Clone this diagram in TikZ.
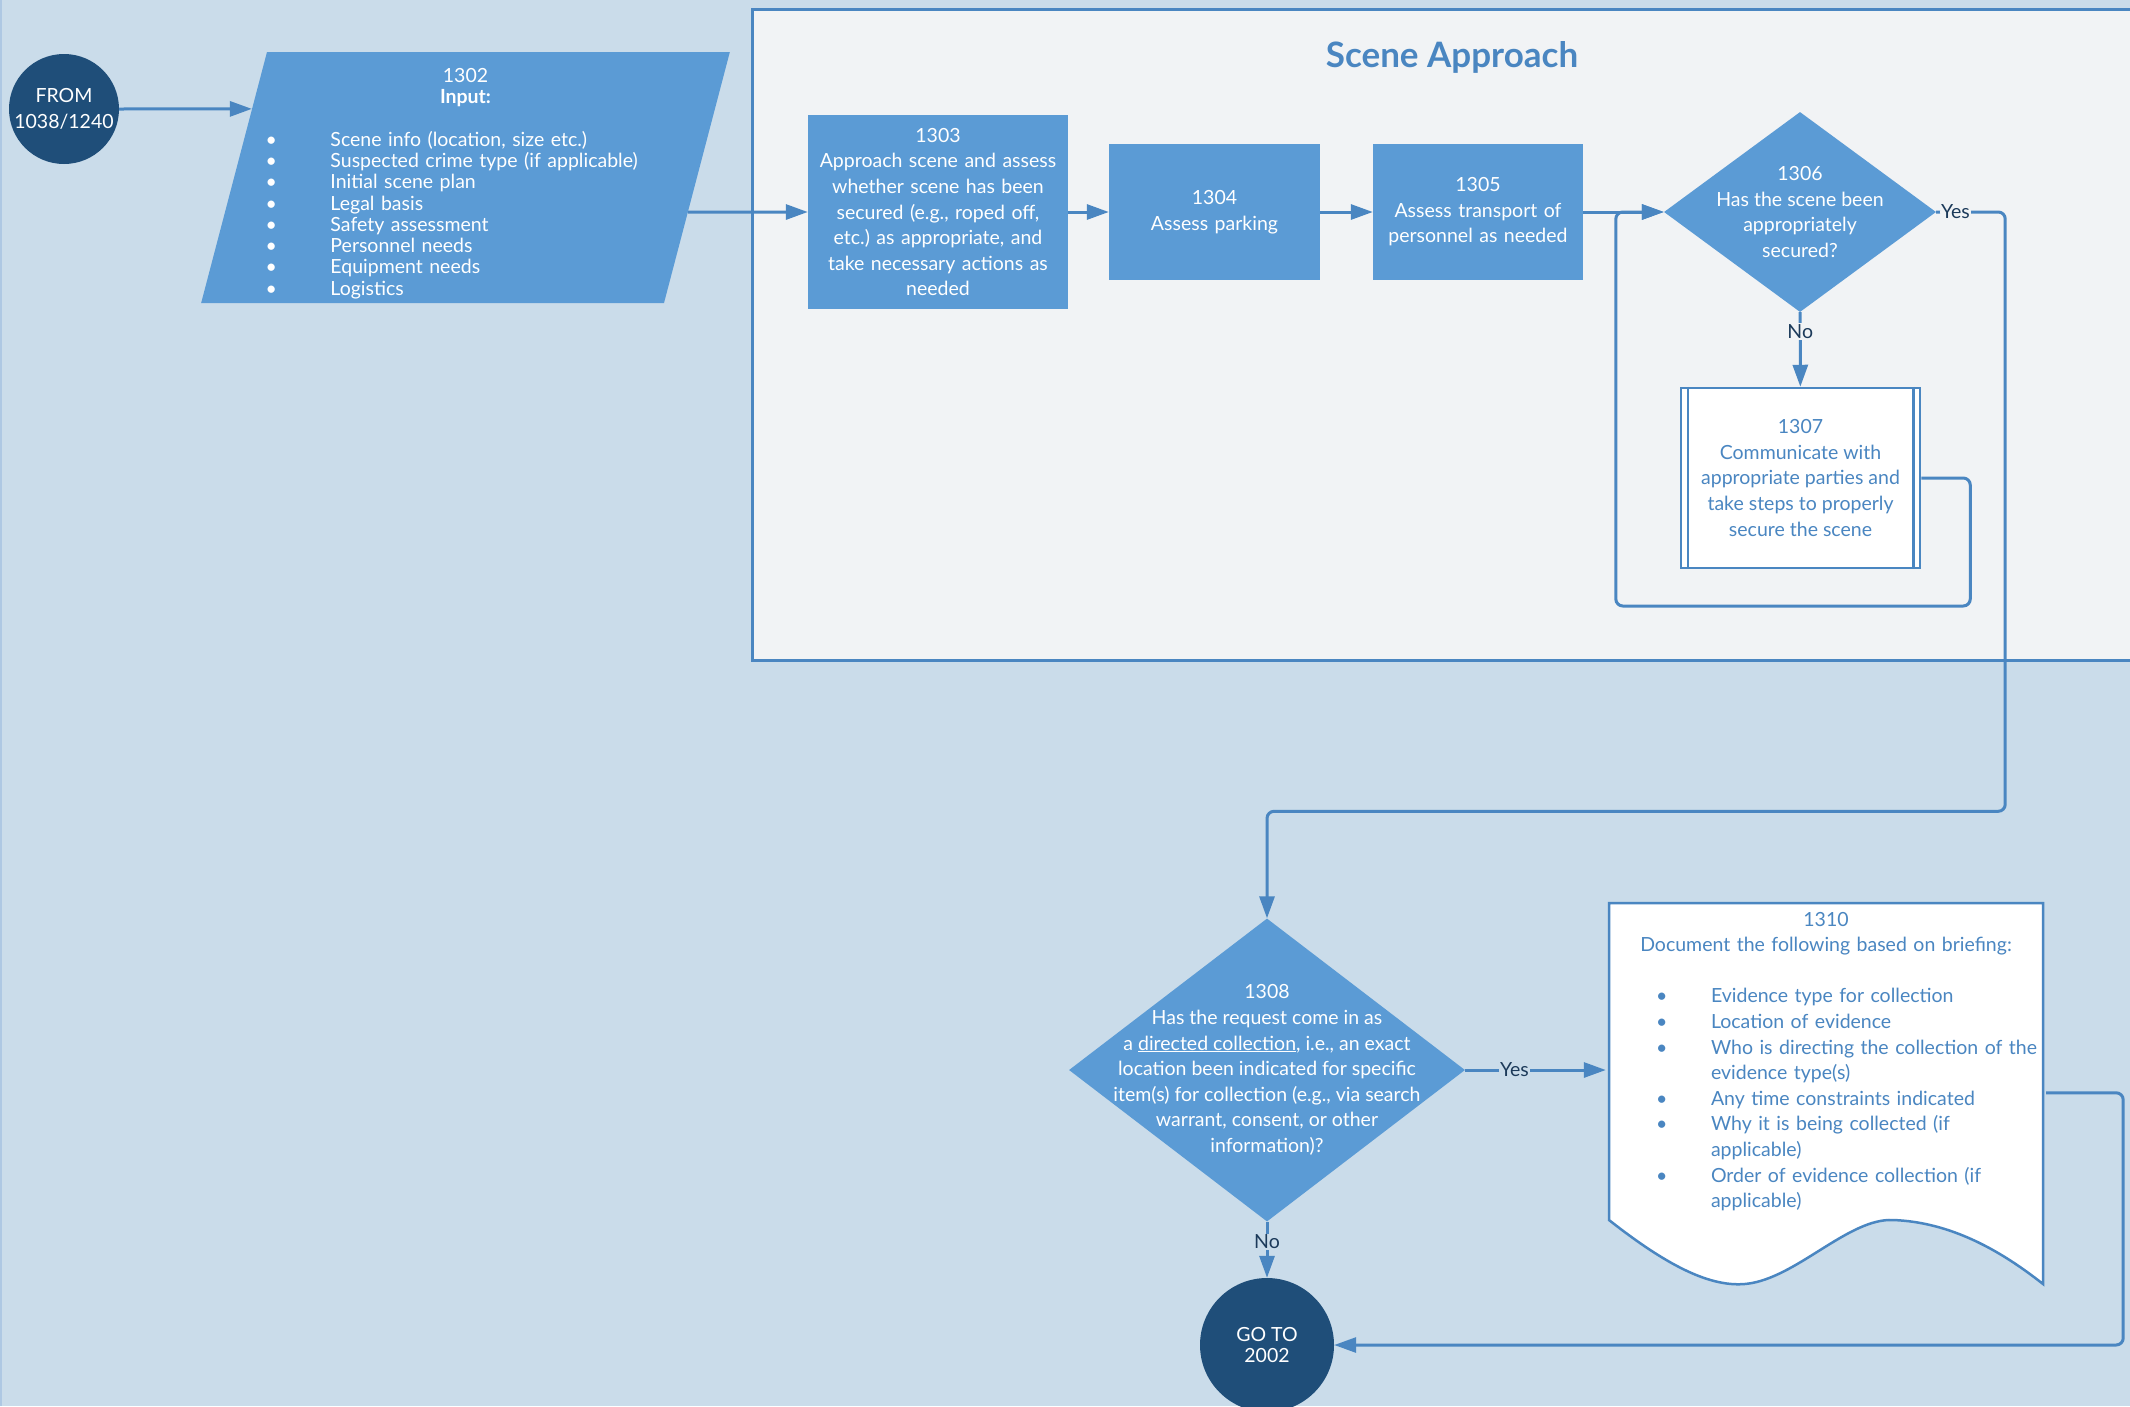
\documentclass[tikz,border=0pt]{standalone}
\usepackage{fontspec}
\setmainfont{Lato}
\usepackage{xcolor}
\usepackage{tikz}
\usetikzlibrary{shapes,arrows.meta,positioning,calc}

\definecolor{bgblue}{HTML}{CADCEA}
\definecolor{panelgray}{HTML}{F1F3F5}
\definecolor{boxblue}{HTML}{5B9BD5}
\definecolor{darkblue}{HTML}{1F4E79}
\definecolor{lineblue}{RGB}{74,134,193}
\definecolor{labelnavy}{HTML}{1C3A5A}

\frenchspacing
\newcommand{\dotgap}[1]{\makebox[#1][l]{\textbullet}}
\newcommand{\inputtext}{%
    {\centering 1302\\\textbf{Input:}\par}
    \vspace{21.3pt}
    \dotgap{65pt}Scene info (location, size etc.)\\
    \dotgap{65pt}Suspected crime type (if applicable)\\
    \dotgap{65pt}Initial scene plan\\
    \dotgap{65pt}Legal basis\\
    \dotgap{65pt}Safety assessment\\
    \dotgap{65pt}Personnel needs\\
    \dotgap{65pt}Equipment needs\\
    \dotgap{65pt}Logistics}

\begin{document}
\begin{tikzpicture}[x=1pt, y=-1pt,
    txt/.style={font=\fontsize{19.5}{25.6}\selectfont},
    stepbox/.style={rectangle, fill=boxblue, text=white, align=center, inner sep=0pt, txt},
    decision/.style={diamond, fill=boxblue, inner sep=0pt},
    dtext/.style={text=white, align=center, inner sep=0pt, txt},
    flow/.style={draw=lineblue, line width=3pt, -{Triangle[length=22pt,width=15pt]}},
    answer/.style={fill=#1, text=labelnavy, inner sep=1pt, txt}]

    \fill[bgblue] (0,0) rectangle (2130,1406);
    \useasboundingbox (0,0) rectangle (2130,1406);
    \draw[lineblue!45, line width=1.5pt] (1,0) -- (1,1406);

    \filldraw[fill=panelgray, draw=lineblue, line width=3pt] (752,9) rectangle (2170,660);
    \node[text=lineblue, font=\fontsize{35}{40}\selectfont\bfseries] (title) at (1452,57) {Scene Approach};

    \node[circle, fill=darkblue, text=white, align=center, inner sep=0pt, minimum size=110pt, txt] (from) at (64,109) {FROM\\1038/1240};

    \node[trapezium, trapezium left angle=75.3, trapezium right angle=104.7, inner sep=0pt, fill=boxblue,
        label={[text=white, text width=400pt, align=left, inner sep=0pt, yshift=-6pt,
            font=\fontsize{19.5}{21.3}\selectfont]center:{\inputtext}}] (in1302) at (465.5,177.5)
        {\phantom{\rule{397pt}{251pt}}};

    \node[stepbox, minimum width=260pt, minimum height=194pt, text width=256pt] (b1303) at (938,212)
        {1303\\Approach scene and assess\\whether scene has been\\secured (e.g., roped off,\\etc.) as appropriate, and\\take necessary actions as\\needed};
    \node[stepbox, minimum width=211pt, minimum height=136pt, text width=205pt] (b1304) at (1214.5,212) {1304\\Assess parking};
    \node[stepbox, minimum width=210pt, minimum height=136pt, text width=205pt] (b1305) at (1478,212) {1305\\Assess transport of\\personnel as needed};

    \node[decision, minimum width=272pt, minimum height=200pt,
        label={[dtext]center:{1306\\Has the scene been\\appropriately\\secured?}}] (d1306) at (1800,212) {};

    \node[rectangle, fill=white, draw=lineblue, line width=2.5pt, minimum width=239pt, minimum height=180pt,
        text=lineblue, align=center, inner sep=0pt, txt] (t1307) at (1800.5,478)
        {1307\\Communicate with\\appropriate parties and\\take steps to properly\\secure the scene};
    \draw[lineblue, line width=2.5pt] ([xshift=8pt]t1307.north west) -- ([xshift=8pt]t1307.south west);
    \draw[lineblue, line width=2.5pt] ([xshift=-8pt]t1307.north east) -- ([xshift=-8pt]t1307.south east);

    \node[decision, minimum width=396pt, minimum height=303pt,
        label={[dtext]center:{1308\\Has the request come in as\\a \underline{directed collection}, i.e., an exact\\location been indicated for specific\\item(s) for collection (e.g., via search\\warrant, consent, or other\\information)?}}] (d1308) at (1267,1070) {};

    \node[circle, fill=darkblue, text=white, align=center, inner sep=0pt, minimum size=134pt,
        font=\fontsize{19.5}{21.3}\selectfont] (goto) at (1267,1345) {GO TO\\2002};

    \filldraw[fill=white, draw=lineblue, line width=2.5pt] (1609,903) -- (2043,903) -- (2043,1284)
        .. controls (2000,1250) and (1950,1222) .. (1893,1220)
        .. controls (1850,1218) and (1800,1274) .. (1752,1283)
        .. controls (1715,1290) and (1670,1268) .. (1609,1220) -- cycle;
    \node[rectangle, minimum width=434pt, minimum height=317pt, text width=440pt, inner sep=0pt,
        text=lineblue, align=left, txt] (d1310) at (1826,1061.5)
        {{\centering 1310\\Document the following based on briefing:\par}
        \vspace{25.6pt}
        \hspace*{50pt}\dotgap{55pt}Evidence type for collection\\
        \hspace*{50pt}\dotgap{55pt}Location of evidence\\
        \hspace*{50pt}\dotgap{55pt}\mbox{Who is directing the collection of the}\\
        \hspace*{105pt}evidence type(s)\\
        \hspace*{50pt}\dotgap{55pt}Any time constraints indicated\\
        \hspace*{50pt}\dotgap{55pt}Why it is being collected (if\\
        \hspace*{105pt}applicable)\\
        \hspace*{50pt}\dotgap{55pt}Order of evidence collection (if\\
        \hspace*{105pt}applicable)};

    \draw[flow] (from.east) -- ($(in1302.bottom left corner)!0.773!(in1302.top left corner)$);
    \draw[flow] ($(in1302.bottom right corner)!0.3625!(in1302.top right corner)$) -- (b1303.west);
    \draw[flow] (b1303) -- (b1304);
    \draw[flow] (b1304) -- (b1305);
    \draw[flow] (b1305) -- (d1306);
    \draw[flow] (d1306) -- node[answer=panelgray, pos=0.26] {No} (t1307);
    \draw[flow, rounded corners=7pt] (t1307.east) -- ++(49,0) -- ++(0,128) -| ($(d1306.west)+(-48,0)$) -- (d1306.west);
    \draw[flow, rounded corners=7pt] (d1306.east) -- node[answer=panelgray, pos=0.28] {Yes} ++(69,0)
        |- ($(d1308.north)+(0,-107)$) -- (d1308.north);
    \draw[flow] (d1308.east) -- node[answer=bgblue, pos=0.35] {Yes} (d1310.west |- d1308.east);
    \draw[flow] (d1308) -- node[answer=bgblue, pos=0.36] {No} (goto);
    \draw[flow, rounded corners=7pt] ($(d1310.north east)+(0,190)$) -- ++(77,0) |- (goto.east);
\end{tikzpicture}
\end{document}
